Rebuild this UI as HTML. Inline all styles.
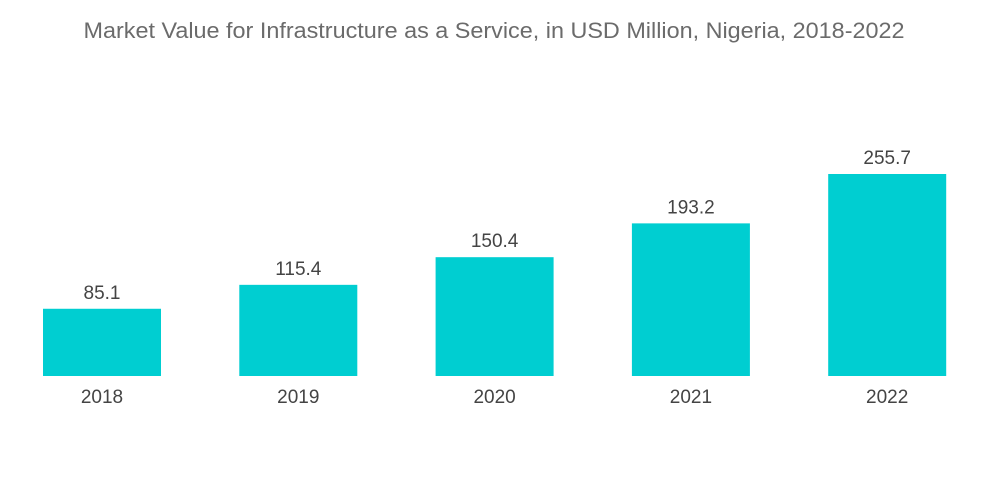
<!DOCTYPE html>
<html><head><meta charset="utf-8"><style>
body{margin:0;background:#fff;}
svg{display:block;font-family:"Liberation Sans",sans-serif;}
</style></head><body>
<svg id="chart" width="1000" height="504">
<text x="494" y="38" text-anchor="middle" font-size="22" textLength="821" lengthAdjust="spacingAndGlyphs" fill="#6b6b6b">Market Value for Infrastructure as a Service, in USD Million, Nigeria, 2018-2022</text>
<g id="bars"></g>
</svg>
<script>
const categories=["2018","2019","2020","2021","2022"];
const values=[85.1,115.4,150.4,193.2,255.7];
const valueLabels=["85.1","115.4","150.4","193.2","255.7"];
const baseY=376, scale=202/255.7, x0=43, step=196.3, bw=118;
const y=v=>baseY-v*scale;
const g=document.getElementById('bars');
const ns="http://www.w3.org/2000/svg";
categories.forEach((c,i)=>{
  const x=x0+i*step;
  const r=document.createElementNS(ns,'rect');
  r.setAttribute('x',x);r.setAttribute('y',y(values[i]));
  r.setAttribute('width',bw);r.setAttribute('height',baseY-y(values[i]));
  r.setAttribute('fill','#00CED1');
  
  
  g.appendChild(r);
  const t=document.createElementNS(ns,'text');
  t.setAttribute('x',x+bw/2);t.setAttribute('y',y(values[i])-10);
  t.setAttribute('text-anchor','middle');t.setAttribute('font-size','19');t.setAttribute('fill','#444');
  t.textContent=valueLabels[i];
  
  
  g.appendChild(t);
  const l=document.createElementNS(ns,'text');
  l.setAttribute('x',x+bw/2);l.setAttribute('y',403);
  l.setAttribute('text-anchor','middle');l.setAttribute('font-size','19');l.setAttribute('fill','#444');
  l.textContent=c;
  
  
  g.appendChild(l);
});
</script>
</body></html>
